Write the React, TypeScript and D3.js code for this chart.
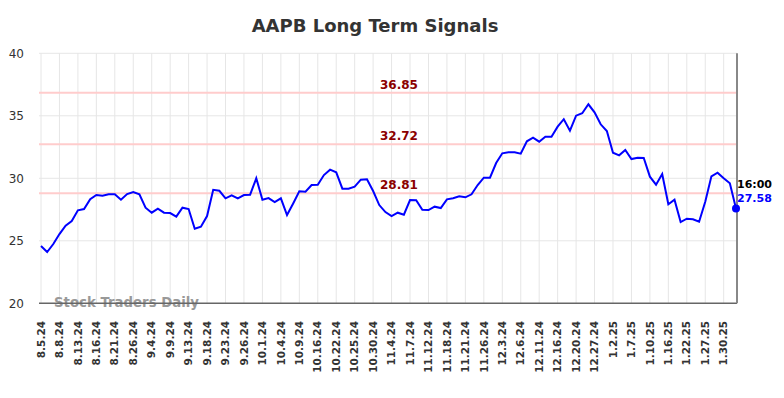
import React from "react";
import * as d3 from "d3";

const tickLabels = [
  "8.5.24", "8.8.24", "8.13.24", "8.16.24", "8.21.24", "8.26.24", "9.4.24", "9.9.24",
  "9.13.24", "9.18.24", "9.23.24", "9.26.24", "10.1.24", "10.4.24", "10.9.24", "10.16.24",
  "10.22.24", "10.25.24", "10.30.24", "11.4.24", "11.7.24", "11.12.24", "11.18.24", "11.21.24",
  "11.26.24", "12.3.24", "12.6.24", "12.11.24", "12.16.24", "12.20.24", "12.27.24", "1.2.25",
  "1.7.25", "1.10.25", "1.16.25", "1.22.25", "1.27.25", "1.30.25",
];

// one value per session
const prices = [
  24.58, 24.1, 24.74, 25.54, 26.21, 26.58, 27.44, 27.54, 28.32, 28.66,
  28.61, 28.72, 28.72, 28.29, 28.74, 28.9, 28.72, 27.65, 27.25, 27.57,
  27.25, 27.22, 26.93, 27.65, 27.54, 25.97, 26.13, 26.98, 29.08, 29.0,
  28.4, 28.64, 28.4, 28.66, 28.69, 30.0, 28.29, 28.42, 28.1, 28.4,
  27.06, 27.99, 28.96, 28.93, 29.46, 29.49, 30.26, 30.69, 30.48, 29.17,
  29.17, 29.33, 29.89, 29.92, 28.98, 27.86, 27.3, 26.98, 27.25, 27.09,
  28.26, 28.24, 27.49, 27.46, 27.73, 27.62, 28.32, 28.4, 28.56, 28.48,
  28.72, 29.46, 30.05, 30.05, 31.22, 32.0, 32.08, 32.08, 31.97, 32.96,
  33.25, 32.93, 33.33, 33.33, 34.13, 34.73, 33.81, 35.01, 35.2, 35.92,
  35.28, 34.32, 33.78, 32.05, 31.84, 32.26, 31.54, 31.65, 31.62, 30.13,
  29.49, 30.34, 27.92, 28.29, 26.5, 26.77, 26.72, 26.53, 28.13, 30.16,
  30.45, 30.0, 29.6, 27.58,
];

const signalLevels = [36.85, 32.72, 28.81];
const yTicks = [20, 25, 30, 35, 40];
const lastTime = "16:00";

const W = 784;
const H = 398;
const font = "'DejaVu Sans', sans-serif";

export default function App() {
  const x = d3.scaleLinear().domain([0, prices.length - 1]).range([41, 736]);
  const y = d3.scaleLinear().domain([20, 40]).range([303.3, 53.3]);
  const line = d3
    .line<number>()
    .x((_, i) => x(i))
    .y((d) => y(d));

  const last = prices[prices.length - 1];
  const lastX = x(prices.length - 1);

  return (
    <svg
      width={W}
      height={H}
      style={{ position: "absolute", left: 0, top: 0, fontFamily: font }}
    >
      <rect width={W} height={H} fill="#fff" />
      <text x={375} y={32} textAnchor="middle" fontSize={18} fontWeight="bold" fill="#333">
        AAPB Long Term Signals
      </text>

      {/* grid */}
      {yTicks.slice(1).map((t) => (
        <line key={t} x1={39} x2={737} y1={y(t)} y2={y(t)} stroke="#e6e6e6" strokeWidth={1} />
      ))}
      {tickLabels.map((_, k) => (
        <line key={k} x1={x(k * 3)} x2={x(k * 3)} y1={y(40)} y2={y(20)} stroke="#e6e6e6" strokeWidth={1} />
      ))}

      {yTicks.map((t) => (
        <text key={t} x={24} y={y(t)} dy="0.35em" textAnchor="end" fontSize={12} fill="#333">
          {t}
        </text>
      ))}

      {/* signal levels */}
      {signalLevels.map((s) => (
        <g key={s}>
          <line x1={39} x2={737} y1={y(s)} y2={y(s)} stroke="#ffcccc" strokeWidth={2} />
          <text x={399} y={y(s) - 4} textAnchor="middle" fontSize={12} fontWeight="bold" fill="#8b0000">
            {s.toFixed(2)}
          </text>
        </g>
      ))}

      <text x={54} y={306.5} fontSize={13.3} fontWeight="bold" fill="#999">
        Stock Traders Daily
      </text>

      <line x1={39} x2={737} y1={y(20)} y2={y(20)} stroke="#666" strokeWidth={1.5} />
      <line x1={737} x2={737} y1={y(40)} y2={y(20)} stroke="#888" strokeWidth={2} />

      {tickLabels.map((l, k) => (
        <text
          key={l}
          transform={`translate(${x(k * 3)},321) rotate(-90)`}
          dy="0.35em"
          textAnchor="end"
          fontSize={10.5}
          fontWeight="bold"
          fill="#333"
        >
          {l}
        </text>
      ))}

      <path d={line(prices) ?? ""} fill="none" stroke="#0000ff" strokeWidth={2} />
      <circle cx={lastX} cy={y(last)} r={4} fill="#0000ff" />
      <text x={737} y={188} fontSize={11} fontWeight="bold" fill="#000">
        {lastTime}
      </text>
      <text x={737} y={201.5} fontSize={11} fontWeight="bold" fill="#0000ff">
        {last.toFixed(2)}
      </text>
    </svg>
  );
}
